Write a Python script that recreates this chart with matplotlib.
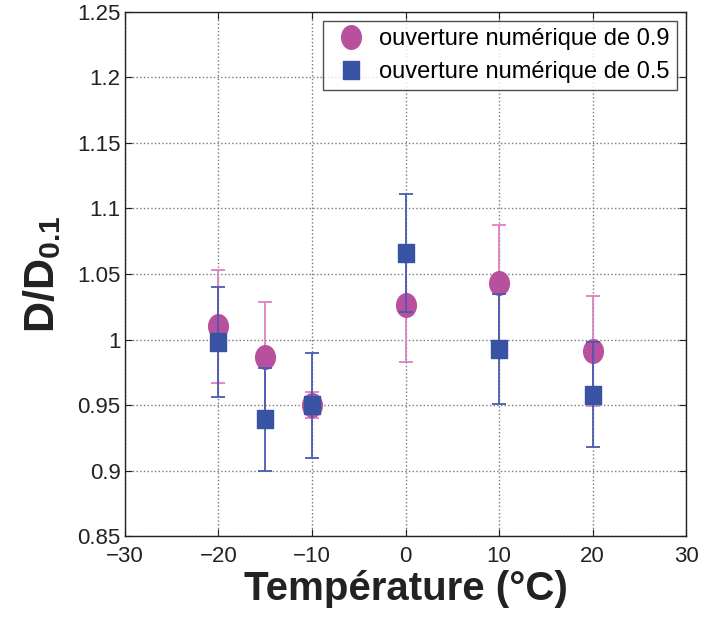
import numpy as np
import matplotlib.pyplot as plt
from matplotlib.path import Path
from matplotlib.lines import Line2D
from matplotlib.transforms import Affine2D

plt.rcParams['font.family'] = ['Liberation Sans', 'DejaVu Sans']
plt.rcParams['mathtext.fontset'] = 'custom'
plt.rcParams['mathtext.rm'] = 'Liberation Sans'
plt.rcParams['mathtext.bf'] = 'Liberation Sans:bold'

# temperatures (°C) and normalised diameters
temp = [-20, -15, -10, 0, 10, 20]
d_09 = [1.010, 0.987, 0.950, 1.026, 1.043, 0.991]
err_09 = [0.043, 0.042, 0.010, 0.043, 0.044, 0.042]
d_05 = [0.998, 0.939, 0.950, 1.066, 0.993, 0.958]
err_05 = [0.042, 0.039, 0.040, 0.045, 0.042, 0.040]

lab_09 = 'ouverture numérique de 0.9'
lab_05 = 'ouverture numérique de 0.5'

# slightly taller-than-wide circle and square
ell = Path(Affine2D().scale(1.0, 1.2).transform(Path.unit_circle().vertices),
           Path.unit_circle().codes)
sq = Path(Affine2D().scale(1.0, 1.15).transform(
    [[-1, -1], [1, -1], [1, 1], [-1, 1], [-1, -1]]),
    [Path.MOVETO, Path.LINETO, Path.LINETO, Path.LINETO, Path.CLOSEPOLY])

c_pink, e_pink = '#b8509e', '#dc80c4'
c_blue, e_blue = '#3853a4', '#4a5ab0'

fig = plt.figure(figsize=(7.01, 6.22), dpi=100)
ax = fig.add_axes([0.178, 0.138, 0.801, 0.843])

ax.errorbar(temp, d_09, yerr=err_09, fmt='none', ecolor=e_pink,
            elinewidth=1.3, capsize=5, capthick=1.3, zorder=2)
ax.plot(temp, d_09, ls='none', marker=ell, ms=17, color=c_pink,
        mec=c_pink, zorder=3)
ax.errorbar(temp, d_05, yerr=err_05, fmt='none', ecolor=e_blue,
            elinewidth=1.3, capsize=5, capthick=1.3, zorder=4)
ax.plot(temp, d_05, ls='none', marker=sq, ms=13.5, color=c_blue,
        mec=c_blue, zorder=5)

ax.set_xlim(-30, 30)
ax.set_ylim(0.85, 1.25)
ax.set_xticks(np.arange(-30, 31, 10))
ax.set_yticks(np.arange(0.85, 1.2501, 0.05))
ax.set_xticklabels(['\u221230', '\u221220', '\u221210', '0', '10', '20', '30'])
ax.set_yticklabels(['0.85', '0.9', '0.95', '1', '1.05', '1.1', '1.15', '1.2', '1.25'])
ax.tick_params(direction='in', length=5, width=0.8, labelsize=16,
               top=True, right=True, colors='#222222')
ax.tick_params(axis='x', pad=7)
ax.tick_params(axis='y', pad=3)
ax.grid(True, ls=':', color='#777777', lw=1.0)
ax.set_axisbelow(True)
for s in ax.spines.values():
    s.set_linewidth(1.0)
    s.set_color('#222222')

ax.set_xlabel('Température (°C)', fontsize=29, fontweight='bold',
              color='#222222', labelpad=2)
ax.set_ylabel(r'$\mathbf{D/D_{0.1}}$', fontsize=31, color='#222222',
              labelpad=10)

handles = [Line2D([], [], ls='none', marker=ell, ms=17, color=c_pink),
           Line2D([], [], ls='none', marker=sq, ms=13, color=c_blue)]
leg = ax.legend(handles, [lab_09, lab_05], loc='upper right', fontsize=17,
                frameon=True, fancybox=False, handletextpad=0.3,
                borderpad=0.3, labelspacing=0.45, handlelength=1.8,
                borderaxespad=0.4)
leg.get_frame().set_edgecolor('#222222')
leg.get_frame().set_linewidth(1.0)

fig.savefig('out.png', dpi=100)
